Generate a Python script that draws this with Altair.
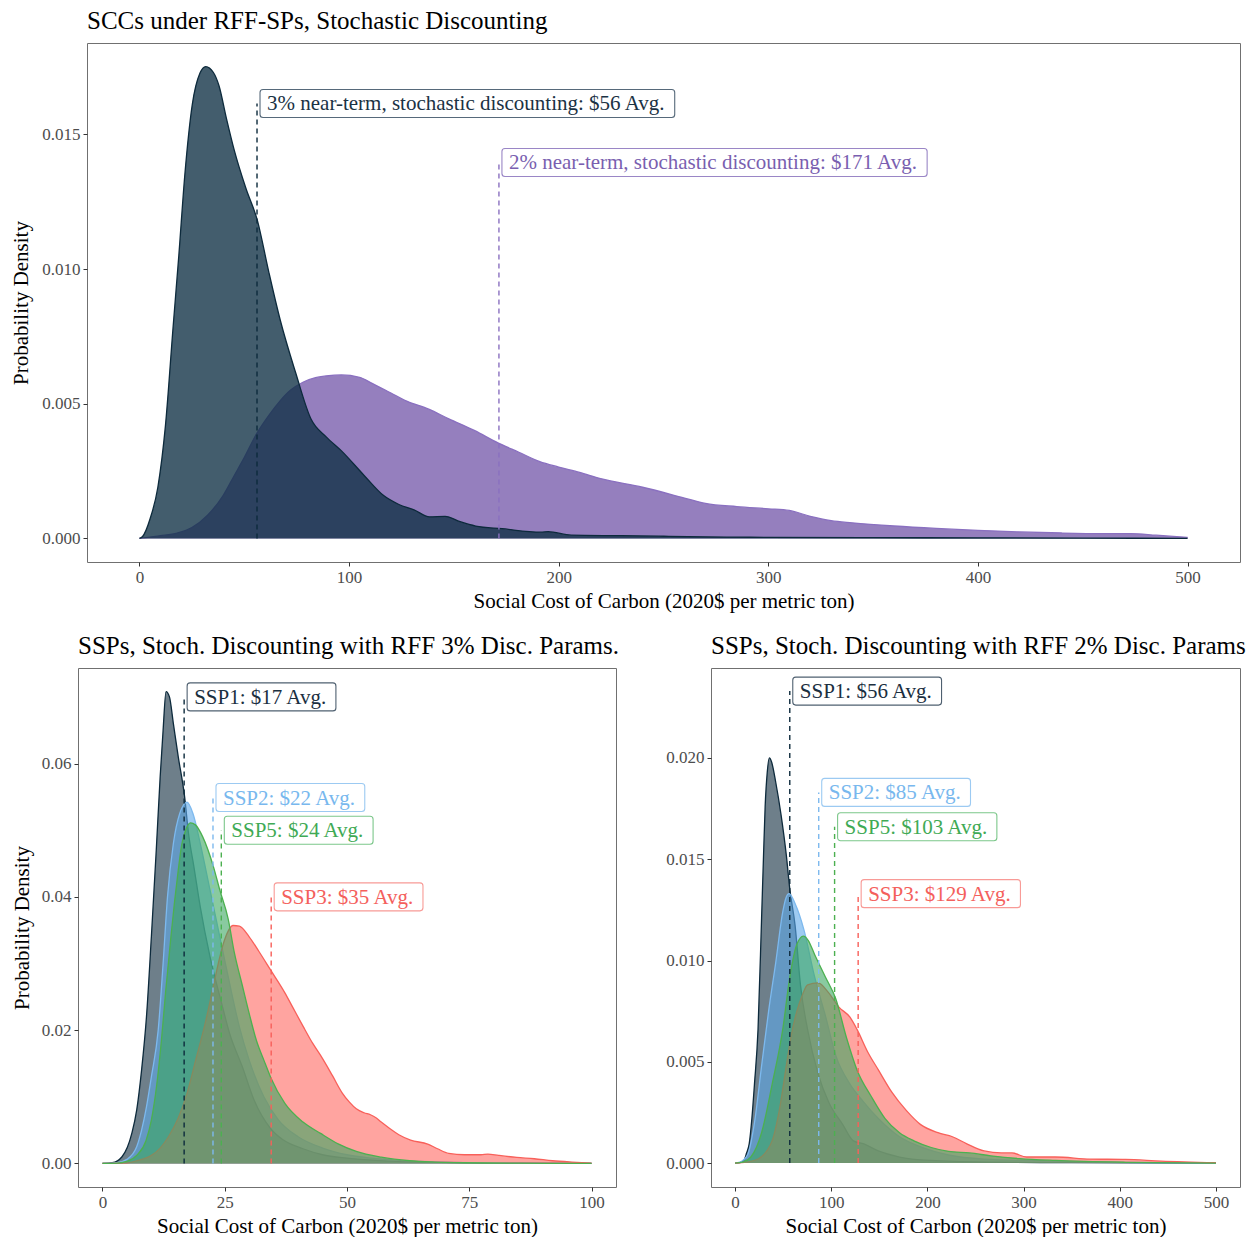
import altair as alt
import pandas as pd

FONT = "Liberation Serif"
XTITLE = "Social Cost of Carbon (2020$ per metric ton)"
YTITLE = "Probability Density"

# ---------------- Top panel: RFF-SPs, stochastic discounting ----------------
top_titles = "SCCs under RFF-SPs, Stochastic Discounting"
# 2% near-term (purple), density values in units of 0.001
p2_x = [0, 5, 10, 18, 25, 32.5, 40, 45, 50, 56, 62, 67, 72, 78, 84, 89, 96.4, 105, 111, 120, 127.5,
        138, 147.6, 160, 171, 181, 191, 200, 210, 220, 240, 260, 270, 285, 300, 310, 320, 330, 340,
        360, 380, 400, 420, 440, 460, 473, 485, 500]
p2_y = [0, 0.05, 0.1, 0.2, 0.4, 0.86, 1.6, 2.3, 3.0, 3.9, 4.6, 5.1, 5.5, 5.8, 5.97, 6.03, 6.07, 5.98,
        5.76, 5.4, 5.1, 4.8, 4.44, 4.0, 3.55, 3.2, 2.85, 2.65, 2.45, 2.22, 1.9, 1.5, 1.3, 1.18, 1.1,
        1.04, 0.82, 0.66, 0.58, 0.46, 0.37, 0.3, 0.24, 0.2, 0.18, 0.18, 0.12, 0.04]
# 3% near-term (dark), density values in units of 0.001
p3_x = [0, 1.5, 5.1, 8.8, 12.4, 16.1, 18.8, 21.6, 25.2, 28.9, 31.6, 35.3, 38, 41.5, 45.3, 50.8, 56.3,
        61.7, 67.2, 74.5, 81.8, 89.1, 96.4, 107.4, 116.5, 123.8, 131, 138.4, 145.8, 153, 160.4, 173,
        191.4, 195, 206, 230, 250, 280, 300, 350, 400, 450, 500]
p3_y = [0, 0.07, 0.73, 1.9, 4.17, 7.88, 10.5, 13.44, 16.1, 17.28, 17.52, 17.3, 16.8, 15.6, 14.4,
        13.0, 11.8, 9.9, 8.1, 6.16, 4.44, 3.77, 3.25, 2.32, 1.59, 1.26, 1.06, 0.8, 0.82, 0.62,
        0.46, 0.36, 0.23, 0.25, 0.12, 0.1, 0.08, 0.05, 0.04, 0.03, 0.02, 0.01, 0.0]
top_means = [171.5, 56.1]
top_label_y = [13.96, 16.15]
top_labels = ["2% near-term, stochastic discounting: $171 Avg.",
              "3% near-term, stochastic discounting: $56 Avg."]

# ---------------- Bottom-left: SSPs with RFF 3% params ----------------
bl_title = "SSPs, Stoch. Discounting with RFF 3% Disc. Params."
bl_ssp1_x = [0, 2, 4, 6, 7, 8, 9, 10, 11, 11.8, 12.4, 13, 13.7, 14.5, 15.5, 16.8, 17.6, 18.7, 20, 22,
             24.2, 26, 28.6, 31, 34.4, 37, 41, 45, 50, 55, 60, 70, 80, 90, 100]
bl_ssp1_y = [0, 0.1, 1.0, 4.5, 8, 14, 22, 34, 47, 58, 65, 70.8, 70, 66, 61, 55, 49.5, 44.5, 38.5, 31,
             24.5, 19.5, 14.5, 9.5, 5.2, 3.5, 2.2, 1.3, 0.8, 0.5, 0.3, 0.15, 0.08, 0.03, 0]
bl_ssp2_x = [0, 3, 5, 7, 8, 9, 10, 11.4, 12.4, 13.3, 14.5, 15.8, 17.3, 18.5, 20, 22, 24, 26, 28, 30,
             33, 36, 40, 45, 50, 55, 60, 70, 80, 90, 100]
bl_ssp2_y = [0, 0.1, 0.6, 2.5, 5, 8.5, 13, 20, 30, 40, 48, 52.5, 54.2, 52.5, 48, 41, 34, 27, 20.5,
             15.5, 10, 6.5, 4, 2.3, 1.3, 0.8, 0.5, 0.2, 0.1, 0.04, 0]
bl_ssp3_x = [0, 4, 6, 8, 10, 11.8, 13.5, 15.5, 17.3, 19.1, 21, 22.7, 24, 24.9, 25.8, 26.7, 28, 30, 32,
             34.4, 37.3, 39, 41, 43, 44.6, 47, 49, 50.5, 51.9, 53.5, 54.8, 56, 57, 58.8, 60.6, 63,
             66.5, 68.5, 70.8, 74, 77.4, 78.8, 81, 84.7, 88.3, 92, 96, 100]
bl_ssp3_y = [0, 0.05, 0.2, 0.6, 1.2, 2.3, 4, 6.8, 10.5, 15.6, 21, 26.7, 31, 33.4, 35, 35.7, 35.6, 34,
             31.8, 29, 25.6, 23.3, 20.6, 18, 16.2, 13.2, 10.6, 9.2, 8.2, 7.6, 7.3, 6.8, 6.2, 5.2, 4.3,
             3.5, 2.9, 2.2, 1.5, 1.3, 1.3, 1.4, 1.2, 0.9, 0.7, 0.4, 0.2, 0.05]
bl_ssp5_x = [0, 3, 5, 7, 8.9, 10, 11.1, 12, 12.9, 14, 14.7, 15.5, 16.2, 17, 18, 19, 20.5, 22.7, 24,
             25.7, 27, 28.6, 30, 31.5, 33, 34.4, 37.3, 41, 44.6, 48.3, 51.9, 57, 62.8, 68, 73.8, 85,
             100]
bl_ssp5_y = [0, 0.05, 0.3, 1.2, 3.4, 6.5, 11.8, 18, 25.6, 34, 39, 44, 47.8, 50, 51.1, 50.8, 49, 44.5,
             41, 36.7, 31.5, 26.7, 22.5, 18.4, 15.5, 12.9, 9, 6.2, 4.5, 2.9, 1.8, 0.94, 0.4, 0.2, 0.1,
             0.04, 0]
bl_means = [16.7, 22.6, 34.5, 24.3]
bl_label_y = [70.0, 54.9, 40.0, 50.0]
bl_labels = ["SSP1: $17 Avg.", "SSP2: $22 Avg.", "SSP3: $35 Avg.", "SSP5: $24 Avg."]

# ---------------- Bottom-right: SSPs with RFF 2% params ----------------
br_title = "SSPs, Stoch. Discounting with RFF 2% Disc. Params"
br_ssp1_x = [0, 5, 9.2, 12, 14.7, 17.5, 20.2, 23.9, 27.6, 29.5, 31.3, 33.5, 35.7, 38, 42.3, 47.8, 53.3,
             57, 62.5, 68, 75.4, 86.4, 97.4, 112, 123, 134, 149, 171, 204, 260, 350, 500]
br_ssp1_y = [0, 0.02, 0.13, 0.5, 0.95, 2.2, 3.9, 6.6, 12.1, 15, 17.6, 19.3, 20.0, 19.8, 18.8, 17.2,
             15.2, 13.5, 11.7, 8.8, 6.6, 4.4, 3.0, 1.9, 1.1, 0.95, 0.6, 0.3, 0.13, 0.05, 0.02, 0]
br_ssp2_x = [0, 5, 12.9, 20.2, 27.6, 34.9, 42.3, 49.6, 53, 56.2, 62.5, 71.7, 82.7, 93.8, 104.8, 119.5,
             134, 149, 171, 193, 222, 259, 333, 420, 500]
br_ssp2_y = [0, 0.05, 0.4, 2.0, 4.8, 7.5, 9.9, 12.4, 13.1, 13.3, 12.8, 11.5, 9.2, 7.3, 5.3, 3.9, 3.0,
             2.2, 1.3, 0.8, 0.4, 0.2, 0.1, 0.03, 0]
br_ssp3_x = [0, 12, 23.9, 38.6, 46, 53.3, 58, 64.3, 70, 75.4, 86.4, 97.4, 108, 119.5, 126.8, 137.8,
             149, 163, 178, 193, 211, 226, 241, 259, 277, 288, 303, 333, 369, 406, 443, 500]
br_ssp3_y = [0, 0.05, 0.2, 1.1, 2.6, 4.8, 6.2, 7.5, 8.3, 8.8, 8.9, 8.4, 7.7, 7.2, 6.6, 5.5, 4.6, 3.5,
             2.6, 1.9, 1.5, 1.3, 0.95, 0.6, 0.5, 0.5, 0.3, 0.3, 0.2, 0.18, 0.1, 0.02]
br_ssp5_x = [0, 8, 16.5, 27.6, 38.6, 49.6, 57, 64.3, 71, 76, 82.7, 93.8, 104.8, 115.8, 126.8, 141.5,
             156, 171, 186, 204, 222, 244, 266, 296, 333, 406, 500]
br_ssp5_y = [0, 0.05, 0.3, 1.5, 3.9, 6.6, 9.2, 10.8, 11.2, 11.0, 10.3, 9.2, 8.1, 6.2, 4.6, 3.3, 2.2,
             1.5, 1.1, 0.77, 0.58, 0.5, 0.36, 0.22, 0.13, 0.04, 0]
br_means = [56.9, 87.0, 128.0, 103.5]
br_label_y = [23.3, 18.3, 13.3, 16.6]
br_labels = ["SSP1: $56 Avg.", "SSP2: $85 Avg.", "SSP3: $129 Avg.", "SSP5: $103 Avg."]

# ---------------- styling ----------------
# (fill base, fill opacity, outline, label text, label border)
TOP_STYLE = {
    "2%": ("#7a5fae", 0.8, "#8a70c0", "#7a5fb0", "#9a86c6"),
    "3%": ("#0e2f44", 0.78, "#0d2a3c", "#1b3244", "#56697a"),
}
SSP_STYLE = {
    "SSP1": ("#0d2a3c", 0.6, "#0d2a3c", "#1b2f3f", "#4f6070"),
    "SSP2": ("#5ea9ea", 0.6, "#7db9ee", "#78b8ee", "#9ccaf2"),
    "SSP3": ("#ff6761", 0.6, "#f8605a", "#f4605c", "#f89a96"),
    "SSP5": ("#3aa660", 0.6, "#4cb050", "#3faa55", "#7cc78a"),
}

TIMES_W = {' ': 250, '$': 500, '%': 833, '.': 250, ',': 250, ':': 278, '-': 333, 'S': 556,
           'P': 556, 'A': 722, 'a': 444, 'c': 444, 'd': 500, 'e': 444, 'g': 500, 'h': 500,
           'i': 278, 'm': 778, 'n': 500, 'o': 500, 'r': 333, 's': 389, 't': 278, 'u': 500,
           'v': 500}
LABEL_SIZE = 21


def text_width(s, size):
    return sum(TIMES_W.get(ch, 500) for ch in s) / 1000.0 * size


def enc(xdomain, xticks, ydomain, yticks, yfmt, ytitle, ytp):
    xa = alt.Axis(values=xticks, title=XTITLE, grid=False, domain=False, tickColor="#333333",
                  tickSize=4, labelPadding=3, titlePadding=5, format="d")
    ya = alt.Axis(values=yticks, title=ytitle, grid=False, domain=False, tickColor="#333333",
                  tickSize=4, labelPadding=3, titlePadding=ytp, format=yfmt)
    X = lambda f="x": alt.X(f + ":Q", scale=alt.Scale(domain=xdomain, nice=False, zero=False), axis=xa)
    Y = lambda f="y": alt.Y(f + ":Q", scale=alt.Scale(domain=ydomain, nice=False, zero=False), axis=ya)
    return X, Y


def density_layers(xs, ys, style, X, Y):
    fill, op, line, _, _ = style
    df = pd.DataFrame({"x": xs, "y": [v / 1000.0 for v in ys]})
    area = alt.Chart(df).mark_area(interpolate="monotone", fill=fill, fillOpacity=op,
                                   strokeWidth=0).encode(x=X(), y=Y(), y2=alt.datum(0))
    ln = alt.Chart(df).mark_line(interpolate="monotone", color=line, strokeWidth=1.3).encode(
        x=X(), y=Y())
    return [area, ln]


def label_layers(mean, ly, text, style, X, Y):
    _, _, line, tcol, bcol = style
    df = pd.DataFrame({"x": [mean], "y": [ly / 1000.0], "y0": [0.0], "text": [text]})
    rule = alt.Chart(df).mark_rule(color=line, strokeDash=[5, 4], strokeWidth=1.4).encode(
        x=X(), y=Y("y0"), y2="y:Q")
    w = text_width(text, LABEL_SIZE) + 14
    box = alt.Chart(df).mark_rect(fill="white", stroke=bcol, strokeWidth=1.1, cornerRadius=3,
                                  xOffset=3, x2Offset=3 + w, yOffset=-14, y2Offset=14).encode(
        x=X(), x2="x:Q", y=Y(), y2="y:Q")
    txt = alt.Chart(df).mark_text(align="left", baseline="middle", dx=10, dy=1, font=FONT,
                                  fontSize=LABEL_SIZE, color=tcol).encode(
        x=X(), y=Y(), text="text:N")
    return [rule], [box, txt]


def title(t):
    return alt.TitleParams(text=t, font=FONT, fontSize=25, fontWeight="normal", anchor="start",
                           frame="group", color="#000000", offset=9)


# top chart
X, Y = enc([-25, 525], [0, 100, 200, 300, 400, 500], [-0.000876, 0.018396],
           [0, 0.005, 0.010, 0.015], ".3f", YTITLE, 10)
layers, rules, labels = [], [], []
for key, xs, ys in [("2%", p2_x, p2_y), ("3%", p3_x, p3_y)]:
    layers += density_layers(xs, ys, TOP_STYLE[key], X, Y)
for key, m, ly, t in zip(["2%", "3%"], top_means, top_label_y, top_labels):
    r, l = label_layers(m, ly, t, TOP_STYLE[key], X, Y)
    rules += r
    labels += l
top_chart = alt.layer(*(layers + rules + labels)).properties(width=1153, height=519,
                                                             title=title(top_titles))

# an invisible 1px spacer so that the top panel sits 9px to the right of the lower-left panel
spacer = alt.Chart(pd.DataFrame({"s": [0]})).mark_point(opacity=0).encode(
    x=alt.X("s:Q", axis=None), y=alt.Y("s:Q", axis=None)
).properties(width=1, height=1, view=alt.ViewBackground(strokeOpacity=0))
top = alt.HConcatChart(hconcat=[spacer, top_chart], spacing=8, bounds="flush")


def ssp_panel(series, means, lys, texts, xdom, xticks, ydom, yticks, yfmt, ytitle, ytp, w, ttl):
    X, Y = enc(xdom, xticks, ydom, yticks, yfmt, ytitle, ytp)
    layers, rules, labels = [], [], []
    keys = ["SSP1", "SSP2", "SSP3", "SSP5"]
    for key, (xs, ys) in zip(keys, series):
        layers += density_layers(xs, ys, SSP_STYLE[key], X, Y)
    for key, m, ly, t in zip(keys, means, lys, texts):
        r, l = label_layers(m, ly, t, SSP_STYLE[key], X, Y)
        rules += r
        labels += l
    return alt.layer(*(layers + rules + labels)).properties(width=w, height=519, title=title(ttl))


bl = ssp_panel([(bl_ssp1_x, bl_ssp1_y), (bl_ssp2_x, bl_ssp2_y), (bl_ssp3_x, bl_ssp3_y),
                (bl_ssp5_x, bl_ssp5_y)], bl_means, bl_label_y, bl_labels,
               [-5, 105], [0, 25, 50, 75, 100], [-0.00354, 0.07434], [0, 0.02, 0.04, 0.06],
               ".2f", YTITLE, 9, 538, bl_title)
br = ssp_panel([(br_ssp1_x, br_ssp1_y), (br_ssp2_x, br_ssp2_y), (br_ssp3_x, br_ssp3_y),
                (br_ssp5_x, br_ssp5_y)], br_means, br_label_y, br_labels,
               [-25, 525], [0, 100, 200, 300, 400, 500], [-0.00118, 0.02444],
               [0, 0.005, 0.010, 0.015, 0.020], ".3f", None, 10, 529, br_title)

bottom = alt.HConcatChart(hconcat=[bl, br], spacing=95, bounds="flush")
chart = alt.ConcatChart(concat=[top, bottom], columns=1, align="none", spacing=21).properties(
    padding={"left": 2, "top": 0, "right": 0, "bottom": 0}
).configure(font=FONT, background="white").configure_view(
    stroke="#707070", strokeWidth=1
).configure_axis(
    labelFont=FONT, labelFontSize=17, labelColor="#4d4d4d", titleFont=FONT, titleFontSize=21,
    titleColor="#000000", titleFontWeight="normal"
)

chart.save("out.html", embed_options={"renderer": "svg", "actions": False})
